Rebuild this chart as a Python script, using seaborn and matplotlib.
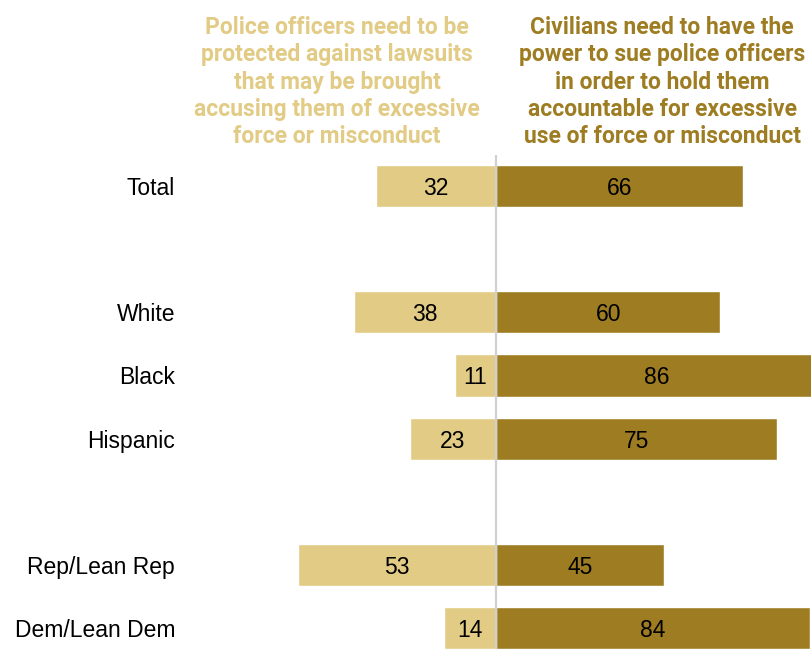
import matplotlib
matplotlib.use('Agg')
import matplotlib.pyplot as plt
from matplotlib import font_manager
import seaborn as sns
import pandas as pd

groups = ['Total', 'White', 'Black', 'Hispanic', 'Rep/Lean Rep', 'Dem/Lean Dem']
protect = [32, 38, 11, 23, 53, 14]
sue = [66, 60, 86, 75, 45, 84]
row_order = ['Total', ' ', 'White', 'Black', 'Hispanic', '  ', 'Rep/Lean Rep', 'Dem/Lean Dem']
header_left = 'Police officers need to be\nprotected against lawsuits\nthat may be brought\naccusing them of excessive\nforce or misconduct'
header_right = 'Civilians need to have the\npower to sue police officers\nin order to hold them\naccountable for excessive\nuse of force or misconduct'

LIGHT = '#E2CB85'
DARK = '#9E7D22'

sns.set_theme(style='white')
plt.rcParams['font.family'] = ['Liberation Sans', 'DejaVu Sans']

names = {f.name for f in font_manager.fontManager.ttflist}
head_family = 'Liberation Sans Narrow' if 'Liberation Sans Narrow' in names else 'Roboto'

df = pd.DataFrame({'group': groups, 'protect_neg': [-v for v in protect], 'sue': sue})

fig = plt.figure(figsize=(8.11, 6.49), dpi=100)
ax = fig.add_axes([180 / 811, 0, 631 / 811, (649 - 155) / 649])

sns.barplot(data=df, y='group', x='protect_neg', order=row_order, orient='h',
            color=LIGHT, saturation=1, width=0.667, errorbar=None, ax=ax)
sns.barplot(data=df, y='group', x='sue', order=row_order, orient='h',
            color=DARK, saturation=1, width=0.667, errorbar=None, ax=ax)

for g, p, s in zip(groups, protect, sue):
    yi = row_order.index(g)
    ax.text(-p / 2, yi, str(p), ha='center', va='center_baseline', fontsize=16.5, color='black')
    ax.text(s / 2, yi, str(s), ha='center', va='center_baseline', fontsize=16.5, color='black')

ax.axvline(0, color='#d0d0d0', lw=1.6, zorder=5)
ax.set_xlim(-84.5, 84.2)
ax.set_ylim(7.33, -0.49)
ax.set_xlabel('')
ax.set_ylabel('')
ax.set_xticks([])
ax.tick_params(axis='y', length=0, pad=3.5, labelsize=16.5, labelcolor='black')
for sp in ax.spines.values():
    sp.set_visible(False)

fig.text(337 / 811, 1 - 16 / 649, header_left, ha='center', va='top', fontsize=16.5,
         fontweight='bold', color=LIGHT, family=head_family, linespacing=1.24)
fig.text(662 / 811, 1 - 16 / 649, header_right, ha='center', va='top', fontsize=16.5,
         fontweight='bold', color=DARK, family=head_family, linespacing=1.24)

fig.savefig('out.png', dpi=100)
